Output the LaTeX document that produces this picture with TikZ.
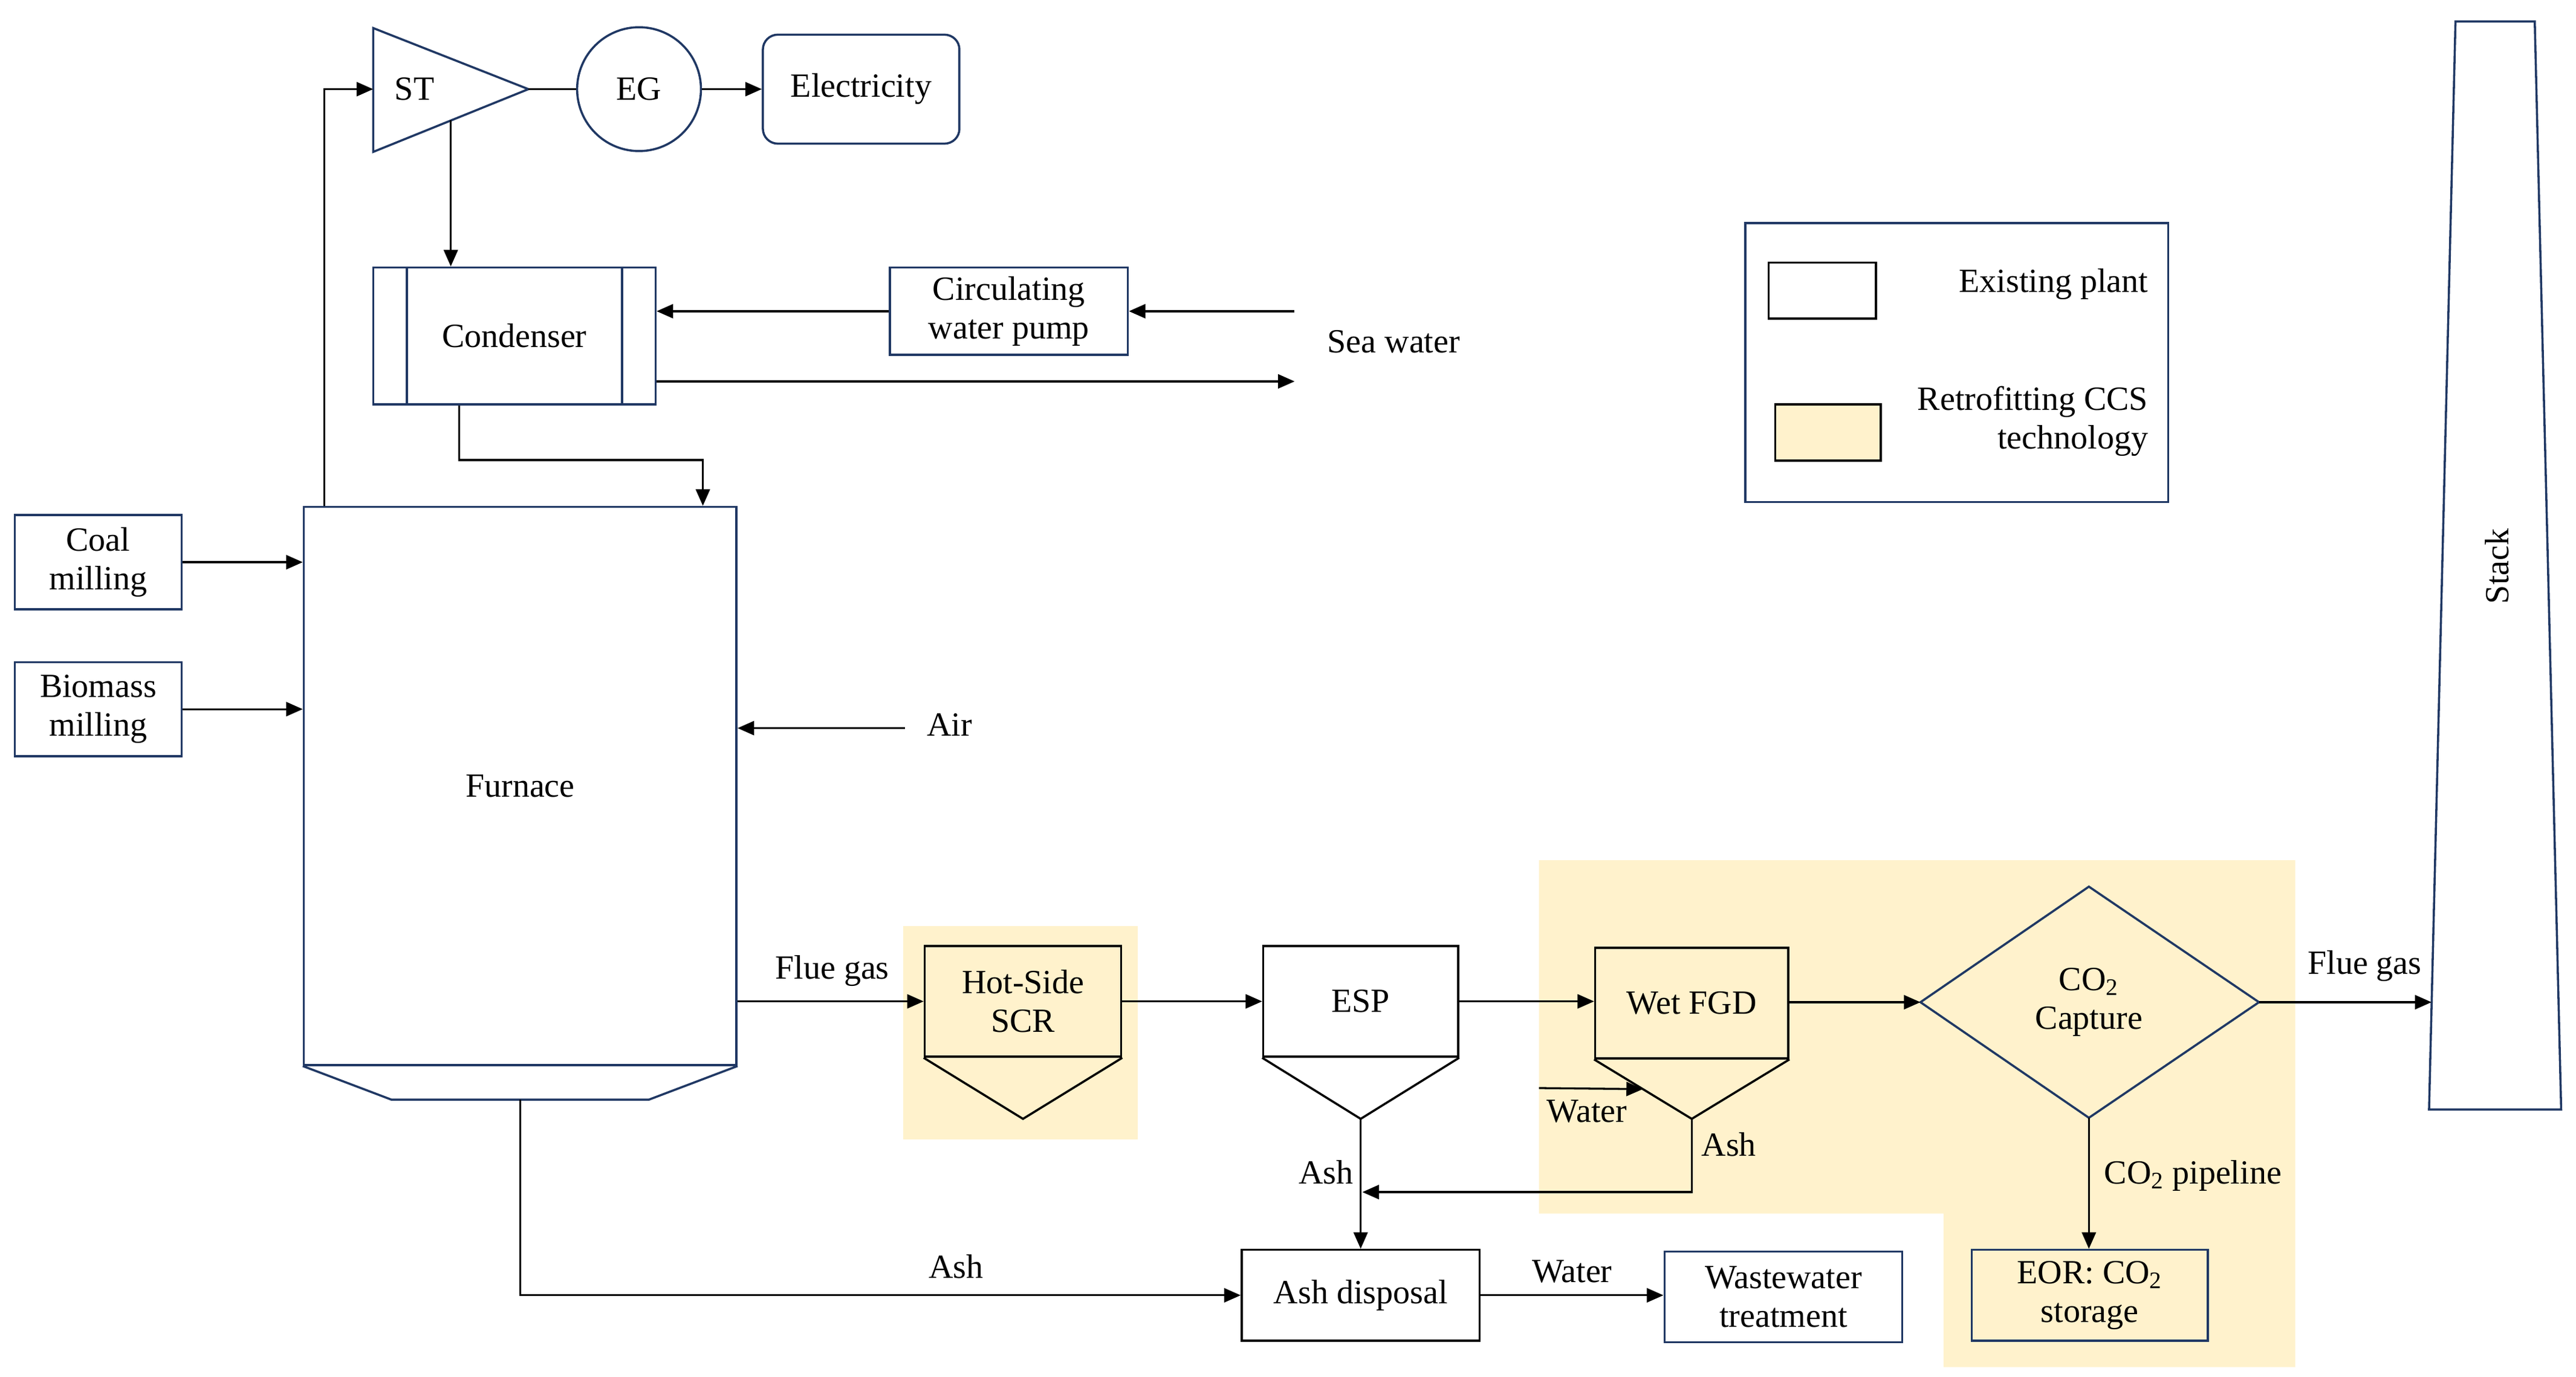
\documentclass[tikz,border=0pt]{standalone}
\usepackage{fontspec}
\setmainfont{Liberation Serif}
\usetikzlibrary{arrows.meta,calc}
\definecolor{navy}{HTML}{203864}
\definecolor{ccs}{HTML}{FFF2CC}
\begin{document}
\begin{tikzpicture}[x=1pt,y=-1pt,
  font=\fontsize{20.5}{23.5}\selectfont,
  nbox/.style={draw=navy,line width=1.3pt,inner sep=0pt,align=center},
  kbox/.style={draw=black,line width=1.3pt,inner sep=0pt,align=center},
  arr/.style={-{Triangle[length=10pt,width=8.5pt]},line width=1.2pt},
  ln/.style={line width=1.3pt},
  nln/.style={draw=navy,line width=1.3pt},
  lbl/.style={inner sep=0pt}]
\useasboundingbox (0,0) rectangle (1560,834);
% CCS backgrounds
\fill[ccs] (547,561) rectangle (689,690);
\fill[ccs] (932,521) -- (1390,521) -- (1390,828) -- (1177,828) -- (1177,735) -- (932,735) -- cycle;
% steam turbine
\draw[nln] (226,17) -- (320,54) -- (226,92) -- cycle;
\coordinate (stin) at (226,54);
\coordinate (stout) at (320,54);
\coordinate (stdown) at (273,73);
\node[lbl] (st) at (251,54) {ST};
\node[nbox,circle,minimum size=75pt] (eg) at (387,54) {EG};
\node[nbox,rounded corners=9pt,minimum width=119pt,minimum height=66pt] (elec) at (521.5,54) {Electricity};
\draw[ln] (stout) -- (eg.west);
\draw[arr] (eg.east) -- (elec.west);
% condenser
\node[nbox,minimum width=171pt,minimum height=83pt] (cond) at (311.5,203.5) {Condenser};
\draw[nln] ([xshift=21pt]cond.north west) -- ([xshift=21pt]cond.south west);
\draw[nln] ([xshift=-21pt]cond.north east) -- ([xshift=-21pt]cond.south east);
\draw[arr] (stdown) -- (stdown |- cond.north);
\node[nbox,minimum width=144pt,minimum height=53pt] (pump) at (611,188.5) {Circulating\\water pump};
\draw[arr] (pump.west) -- (pump.west -| cond.east);
\coordinate (swin) at (784,188.5);
\coordinate (swout) at (784,231);
\draw[arr] (swin) -- (pump.east);
\draw[arr] (cond.east |- swout) -- (swout);
\node[lbl] (sea) at (844,207) {Sea water};
% furnace
\node[nbox,minimum width=262pt,minimum height=338pt] (furn) at (315,476) {Furnace};
\draw[nln] (furn.south west) -- (237,666) -- (393,666) -- (furn.south east);
\coordinate (hop) at (315,666);
\draw[arr] ([xshift=-33.5pt]cond.south) -- ++(0,33) -| ([xshift=-21pt]furn.north east);
\draw[arr] ([xshift=13pt]furn.north west) |- (stin);
\node[nbox,minimum width=101pt,minimum height=57pt] (coal) at (59.5,340.5) {Coal\\milling};
\node[nbox,minimum width=101pt,minimum height=57pt] (bio) at (59.5,429.5) {Biomass\\milling};
\draw[arr] (coal.east) -- (coal.east -| furn.west);
\draw[arr] (bio.east) -- (bio.east -| furn.west);
\node[lbl] (air) at (575,439) {Air};
\coordinate (airin) at (548,441);
\draw[arr] (airin) -- (airin -| furn.east);
% flue gas train
\node[kbox,fill=ccs,minimum width=119pt,minimum height=67pt] (scr) at (619.5,606.5) {Hot-Side\\SCR};
\draw[ln] (scr.south west) -- ([yshift=-37pt]scr.south) -- (scr.south east);
\draw[arr] (scr.west -| furn.east) -- (scr.west);
\node[lbl] (fg1) at (504,588) {Flue gas};
\node[kbox,fill=white,minimum width=118pt,minimum height=67pt] (esp) at (824,606.5) {ESP};
\coordinate (esptip) at ([yshift=-37pt]esp.south);
\draw[ln] (esp.south west) -- (esptip) -- (esp.south east);
\draw[arr] (scr.east) -- (esp.west);
\node[kbox,fill=ccs,minimum width=117pt,minimum height=67pt] (fgd) at (1024.5,607.5) {Wet FGD};
\coordinate (fgdtip) at ([yshift=-36pt]fgd.south);
\draw[ln] (fgd.south west) -- (fgdtip) -- (fgd.south east);
\draw[arr] (esp.east) -- (esp.east -| fgd.west);
\coordinate (fgdw) at ($(fgd.south west)!0.5!(fgdtip)$);
\coordinate (win) at (932,659);
\draw[arr] (win) -- (fgdw);
\node[lbl] (wat1) at (961,673) {Water};
\node[kbox,fill=white,minimum width=144pt,minimum height=55pt] (ashd) at (824,784.5) {Ash disposal};
\coordinate (ashj) at (825,722);
\draw[arr] (fgdtip) |- (ashj);
\node[lbl] (ash1) at (1047,693) {Ash};
\draw[arr] (esptip) -- (ashd.north);
\node[lbl] (ash2) at (803,710) {Ash};
\draw[arr] (hop) |- (ashd.west);
\node[lbl] (ash3) at (579,767) {Ash};
\node[nbox,minimum width=144pt,minimum height=55pt] (ww) at (1080,785.5) {Wastewater\\treatment};
\draw[arr] (ashd.east) -- (ashd.east -| ww.west);
\node[lbl] (wat2) at (952,770) {Water};
% CO2 capture
\coordinate (dl) at (1163,607);
\coordinate (dt) at (1265,537);
\coordinate (dr) at (1368,607);
\coordinate (db) at (1265,677);
\draw[nln,fill=ccs] (dl) -- (dt) -- (dr) -- (db) -- cycle;
\node[lbl,align=center] (cap) at (1265,607) {CO\textsubscript{2}\\Capture};
\draw[arr] (fgd.east |- dl) -- (dl);
\node[nbox,fill=ccs,minimum width=143pt,minimum height=55pt] (eor) at (1265.5,784.5) {EOR: CO\textsubscript{2}\\storage};
\draw[arr] (db) -- (db |- eor.north);
\node[lbl] (pipe) at (1328,712) {CO\textsubscript{2} pipeline};
% stack
\draw[nln] (1487,13) -- (1535,13) -- (1551,672) -- (1471,672) -- cycle;
\coordinate (stkin) at (1472.5,607);
\node[lbl,rotate=90] (stack) at (1512,343) {Stack};
\draw[arr] (dr) -- (stkin);
\node[lbl] (fg2) at (1432,585) {Flue gas};
% legend
\node[nbox,minimum width=256pt,minimum height=169pt] (leg) at (1185,219.5) {};
\node[kbox,minimum width=65pt,minimum height=34pt] (lg1) at (1103.5,176) {};
\node[kbox,fill=ccs,minimum width=64pt,minimum height=34pt] (lg2) at (1107,262) {};
\node[lbl,anchor=east] (lt1) at (1301,172) {Existing plant};
\node[lbl,anchor=east,align=right] (lt2) at (1301,255) {Retrofitting CCS\\technology};
\end{tikzpicture}
\end{document}
